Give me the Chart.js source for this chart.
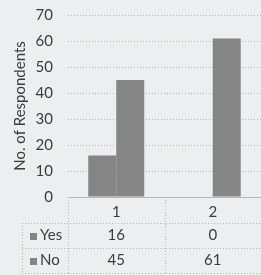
<!DOCTYPE html>
<html>
<head>
<meta charset="utf-8">
<script src="https://cdn.jsdelivr.net/npm/chart.js@4/dist/chart.umd.min.js"></script>
<style>
html,body{margin:0;padding:0;background:#eceef0;}
#wrap{width:261px;height:275px;position:relative;}
</style>
</head>
<body>
<div id="wrap"><canvas id="c" width="261" height="275"></canvas></div>
<script>
const categories = ['1', '2'];
const seriesNames = ['Yes', 'No'];
const yesValues = [16, 0];
const noValues = [45, 61];
const yAxisTitle = 'No. of Respondents';
const yMin = 0, yMax = 70, yStep = 10;

const FONT = 'Lato, "Open Sans", sans-serif';
const TEXT = '#3c3c3c';
const GRID = '#b4b6b8';
const BAR = '#858585';

const tablePlugin = {
  id: 'dataTable',
  afterDraw(chart) {
    const ctx = chart.ctx;
    const xs = chart.scales.x;
    const ca = chart.chartArea;
    const catW = (ca.right - ca.left) / categories.length;
    const rowH = 25;
    const headerBottom = ca.bottom + 26;
    const tableLeft = 22;
    ctx.save();
    ctx.strokeStyle = GRID;
    ctx.lineWidth = 1;
    ctx.setLineDash([1, 2]);
    const rowsY = [];
    for (let i = 0; i <= seriesNames.length; i++) rowsY.push(headerBottom + i * rowH);
    rowsY.forEach(y => {
      ctx.beginPath();
      ctx.moveTo(tableLeft, Math.round(y) + 0.5);
      ctx.lineTo(ca.right, Math.round(y) + 0.5);
      ctx.stroke();
    });
    const vx = [ca.left];
    for (let i = 1; i < categories.length; i++) vx.push(ca.left + i * catW);
    vx.forEach(x => {
      ctx.beginPath();
      ctx.moveTo(Math.round(x) + 0.5, ca.bottom);
      ctx.lineTo(Math.round(x) + 0.5, rowsY[rowsY.length - 1]);
      ctx.stroke();
    });
    ctx.beginPath();
    ctx.moveTo(tableLeft + 0.5, headerBottom);
    ctx.lineTo(tableLeft + 0.5, rowsY[rowsY.length - 1]);
    ctx.stroke();
    ctx.setLineDash([]);
    ctx.font = '15px ' + FONT;
    ctx.fillStyle = TEXT;
    ctx.textBaseline = 'middle';
    const allSeries = [yesValues, noValues];
    allSeries.forEach((vals, r) => {
      const cy = headerBottom + r * rowH + rowH / 2;
      ctx.fillStyle = BAR;
      ctx.fillRect(30, Math.round(cy) - 3, 7, 7);
      ctx.fillStyle = TEXT;
      ctx.textAlign = 'left';
      ctx.fillText(seriesNames[r], 40, cy);
      ctx.textAlign = 'center';
      vals.forEach((v, i) => {
        ctx.fillText(String(v), xs.getPixelForValue(i), cy);
      });
    });
    ctx.restore();
  }
};

new Chart(document.getElementById('c'), {
  type: 'bar',
  data: {
    labels: categories,
    datasets: [
      { label: seriesNames[0], data: yesValues, backgroundColor: BAR },
      { label: seriesNames[1], data: noValues, backgroundColor: BAR }
    ]
  },
  options: {
    responsive: false,
    animation: false,
    layout: { padding: { top: 15, right: 0, left: 0, bottom: 0 } },
    plugins: { legend: { display: false }, tooltip: { enabled: false } },
    datasets: { bar: { categoryPercentage: 0.58, barPercentage: 1.0 } },
    scales: {
      x: {
        grid: { display: false, drawTicks: false },
        border: { display: true, color: GRID, dash: [1, 2] },
        ticks: { color: TEXT, font: { family: FONT, size: 15 }, padding: 6 },
        afterFit(s) { s.height = 78; }
      },
      y: {
        min: yMin, max: yMax,
        ticks: { stepSize: yStep, color: TEXT, font: { family: FONT, size: 15 }, padding: 15 },
        grid: { color: GRID, drawTicks: false },
        border: { display: false, dash: [1, 2] },
        title: { display: true, text: yAxisTitle, color: TEXT, font: { family: FONT, size: 15 }, padding: { top: 11, bottom: 0 } },
        afterFit(s) { s.width = 68; s.paddingTop = 0; s.paddingBottom = 0; }
      }
    }
  },
  plugins: [tablePlugin]
});
</script>
</body>
</html>
